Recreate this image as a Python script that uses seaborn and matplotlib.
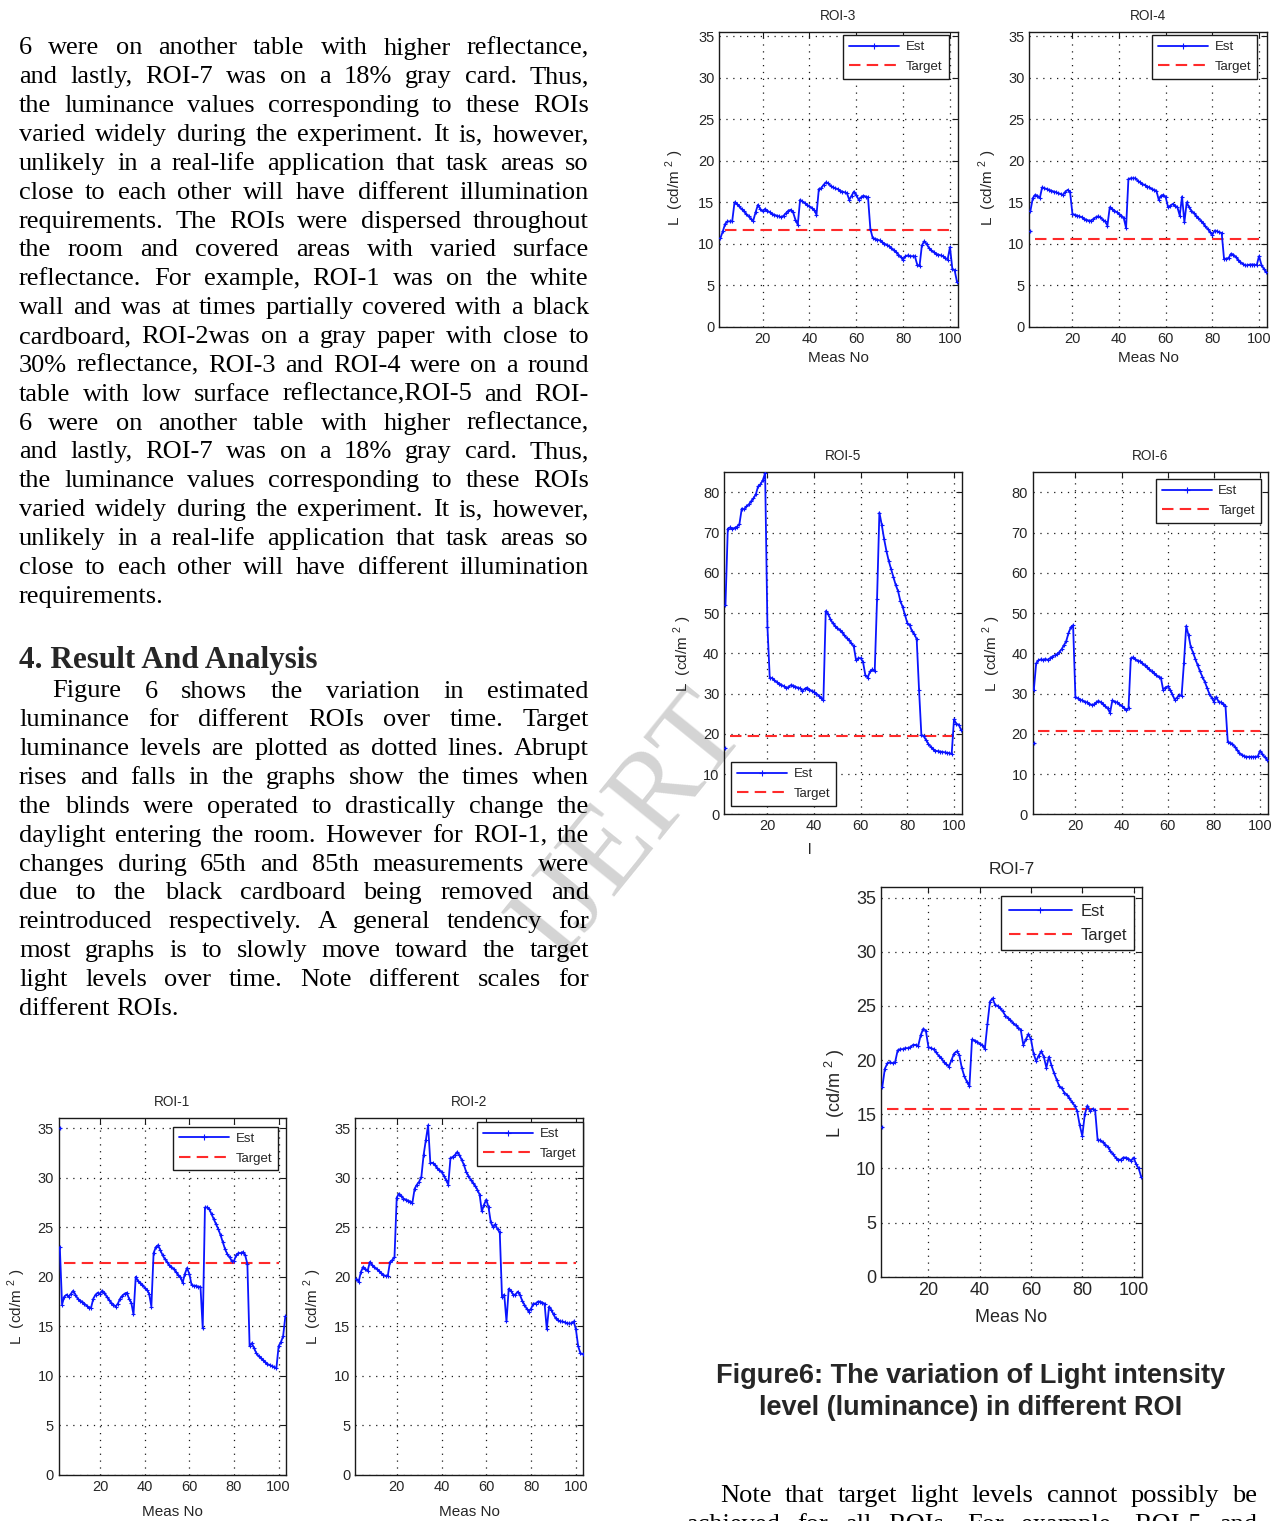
import matplotlib
matplotlib.use('Agg')
import matplotlib.pyplot as plt
from matplotlib.lines import Line2D
import numpy as np
import seaborn as sns

roi_names = ['ROI-1', 'ROI-2', 'ROI-3', 'ROI-4', 'ROI-5', 'ROI-6', 'ROI-7']

roi1_est = [23.0, 17.2, 18.0, 18.2, 18.0, 18.3, 18.6, 18.2, 17.8, 17.6,
            17.5, 17.3, 17.1, 16.9, 16.9, 17.8, 18.2, 18.4, 18.3, 18.6,
            18.4, 18.0, 17.7, 17.4, 17.2, 17.0, 17.3, 17.8, 18.1, 18.3,
            18.4, 17.8, 17.4, 16.2, 20.0, 19.6, 19.4, 19.2, 18.9, 18.7,
            18.3, 17.0, 22.4, 23.0, 23.2, 22.7, 22.2, 21.8, 21.5, 21.2,
            21.0, 20.8, 20.5, 20.2, 20.0, 19.4, 20.3, 20.9, 20.3, 19.2,
            19.1, 19.1, 19.0, 19.0, 14.8, 27.0, 27.0, 26.8, 26.3, 25.8,
            25.3, 24.8, 24.2, 23.5, 22.8, 22.3, 22.0, 21.6, 21.6, 22.2,
            22.4, 22.4, 22.5, 22.2, 21.3, 13.0, 13.3, 12.8, 12.3, 12.0,
            11.8, 11.6, 11.4, 11.2, 11.1, 11.0, 10.9, 10.8, 13.0, 13.4,
            14.0, 16.0]
roi2_est = [19.8, 19.5, 20.5, 21.0, 20.8, 20.6, 21.5, 21.2, 21.0, 20.8,
            20.6, 20.4, 20.2, 20.1, 20.1, 21.5, 21.7, 22.0, 28.0, 28.4,
            28.2, 27.9, 27.8, 27.7, 27.6, 27.5, 28.9, 29.3, 29.6, 30.1,
            32.3, 33.8, 35.3, 31.5, 31.5, 31.3, 31.0, 30.8, 30.6, 30.2,
            29.8, 29.3, 32.0, 32.1, 32.3, 32.6, 32.3, 31.8, 31.3, 30.6,
            30.2, 29.8, 29.5, 29.2, 28.8, 28.3, 26.6, 27.3, 27.8, 27.0,
            25.5, 25.0, 25.3, 24.8, 24.5, 18.0, 18.2, 15.5, 18.8, 18.6,
            18.2, 18.2, 18.5, 18.2, 17.6, 17.2, 16.8, 16.5, 16.8, 17.3,
            17.3, 17.5, 17.5, 17.4, 17.3, 14.7, 17.0, 16.7, 16.2, 15.8,
            15.6, 15.5, 15.5, 15.4, 15.3, 15.3, 15.3, 15.5, 14.7, 13.0,
            12.3, 12.2]
roi3_est = [10.7, 11.5, 12.4, 12.7, 12.7, 12.7, 15.0, 14.8, 14.5, 14.2,
            13.9, 13.6, 13.3, 13.0, 12.8, 13.8, 14.7, 14.2, 13.9, 14.2,
            14.0, 13.8, 13.6, 13.5, 13.4, 13.3, 13.2, 13.4, 13.7, 14.0,
            14.1, 13.8, 12.9, 12.3, 15.3, 15.1, 14.9, 14.7, 14.5, 14.3,
            14.1, 13.5, 16.6, 16.7, 17.1, 17.4, 17.3, 17.0, 16.8, 16.7,
            16.6, 16.4, 16.3, 16.2, 16.1, 15.3, 15.8, 16.3, 15.9, 15.3,
            15.6, 15.8, 15.7, 15.6, 11.8, 10.7, 10.6, 10.5, 10.4, 10.2,
            10.0, 9.9, 9.7, 9.5, 9.2, 9.0, 8.7, 8.4, 8.1, 8.5,
            8.6, 8.5, 8.5, 8.5, 7.5, 7.3, 9.8, 10.3, 10.0, 9.5,
            9.2, 9.0, 8.8, 8.7, 8.6, 8.5, 8.3, 8.1, 9.6, 7.0,
            6.8, 5.4]
roi4_est = [14.0, 15.5, 15.9, 15.8, 15.5, 16.8, 16.7, 16.6, 16.5, 16.4,
            16.3, 16.2, 16.1, 16.0, 15.9, 16.3, 16.5, 16.2, 13.6, 13.5,
            13.4, 13.3, 13.2, 13.0, 12.9, 12.8, 12.8, 13.0, 13.2, 13.3,
            13.2, 12.9, 12.7, 12.2, 14.4, 14.2, 14.0, 13.8, 13.6, 13.4,
            13.1, 11.9, 17.8, 17.9, 17.9, 17.9, 17.6, 17.4, 17.2, 17.1,
            16.9, 16.8, 16.6, 16.5, 16.4, 15.3, 15.8, 15.9, 15.6, 14.4,
            14.6, 14.8, 14.6, 14.4, 13.4, 15.7, 12.6, 15.0, 14.4, 14.0,
            13.7, 13.4, 13.1, 12.8, 12.5, 12.1, 11.8, 11.4, 11.1, 11.6,
            11.5, 11.4, 11.3, 8.2, 8.2, 8.3, 8.8, 8.7, 8.4, 8.1,
            7.8, 7.6, 7.4, 7.4, 7.5, 7.5, 7.5, 7.4, 8.5, 7.5,
            7.0, 6.6]
roi5_est = [52.0, 71.0, 71.3, 71.0, 71.2, 71.5, 72.2, 76.0, 75.8, 76.5,
            77.0, 77.8, 78.5, 79.5, 81.5, 82.0, 83.0, 84.8, 46.6, 33.8,
            33.9, 33.3, 32.8, 32.5, 32.2, 31.8, 31.4, 31.6, 32.1, 32.0,
            31.7, 31.5, 31.3, 30.7, 31.2, 31.5, 31.0, 30.7, 30.4, 30.0,
            29.5, 29.0, 28.5, 50.5, 49.8, 48.5, 47.5, 46.8, 46.3, 45.8,
            45.2, 44.5, 43.8, 43.2, 42.5, 41.8, 38.3, 38.8, 38.8, 37.8,
            34.5, 34.0, 35.5, 36.0, 35.5, 53.5, 75.0, 72.0, 68.5, 65.5,
            63.0, 61.0, 59.0, 57.0, 55.5, 53.0, 51.5, 49.5, 47.5, 47.0,
            45.5, 44.8, 43.5, 31.0, 19.8, 19.4, 18.5, 17.5, 16.8, 16.2,
            15.8, 15.7, 15.6, 15.5, 15.4, 15.3, 15.2, 15.0, 23.6, 22.5,
            22.3, 21.0]
roi6_est = [31.0, 37.5, 38.3, 38.5, 38.4, 38.6, 38.4, 38.8, 39.2, 39.5,
            39.8, 40.3, 41.0, 42.0, 43.0, 45.0, 46.5, 47.0, 29.2, 28.8,
            28.5, 28.3, 28.0, 27.8, 27.5, 27.2, 27.3, 27.8, 28.2, 27.8,
            27.3, 26.8, 26.3, 25.2, 28.3, 28.0, 27.8, 27.3, 27.0, 26.5,
            26.0, 26.3, 38.8, 39.0, 38.5, 38.2, 38.0, 37.5, 37.0, 36.5,
            36.0, 35.5, 35.0, 34.6, 34.2, 34.0, 31.0, 31.5, 31.8, 31.0,
            29.8, 28.5, 29.0, 29.6, 29.5, 37.5, 46.8, 44.5, 41.5, 40.2,
            38.5, 37.0, 35.5, 34.2, 33.0, 31.5, 30.0, 29.0, 28.0, 29.2,
            28.0, 27.8, 27.5, 27.0, 18.0, 17.8, 17.5, 16.8, 16.0, 15.3,
            14.8, 14.5, 14.3, 14.3, 14.3, 14.3, 14.3, 14.4, 15.8, 15.0,
            14.2, 13.6]
roi7_est = [17.5, 19.2, 19.7, 19.8, 19.7, 19.8, 20.9, 21.0, 21.0, 21.1,
            21.1, 21.2, 21.4, 21.4, 21.3, 22.3, 22.9, 22.7, 21.2, 21.1,
            21.0, 20.7, 20.4, 20.2, 19.8, 19.6, 19.4, 20.0, 20.6, 20.8,
            20.5, 19.3, 18.5, 18.0, 17.6, 21.9, 21.8, 21.7, 21.5, 21.4,
            21.0, 23.3, 25.4, 25.7, 25.1, 25.0, 24.8, 24.5, 24.1, 23.9,
            23.7, 23.4, 23.2, 23.0, 22.8, 21.4, 21.9, 22.4, 21.9, 20.6,
            19.9, 20.4, 20.8, 20.3, 19.3, 20.3, 19.5, 18.8, 18.2, 17.6,
            17.4, 17.0, 16.8, 16.5, 16.1, 15.8, 15.3, 14.0, 13.0, 15.0,
            15.8, 15.3, 15.5, 15.4, 12.6, 12.6, 12.4, 12.2, 12.0, 11.6,
            11.3, 11.0, 10.8, 10.8, 11.0, 11.0, 10.9, 10.7, 11.0, 10.4,
            10.0, 9.2]

# stray first sample drawn on its own at the left edge (None = none)
first_samples = [35.0, None, None, 11.6, 16.4, 17.7, 13.8]
target_levels = [21.4, 21.4, 11.7, 10.6, 19.4, 20.7, 15.5]
target_span = [4, 100]
x_ticks = [20, 40, 60, 80, 100]

est_series = [roi1_est, roi2_est, roi3_est, roi4_est, roi5_est, roi6_est, roi7_est]
meas_no = np.arange(2, 2 + len(roi1_est))

# ---- styling ----
sns.set_theme(style='white')
plt.rcParams['font.family'] = ['Liberation Sans', 'DejaVu Sans']
plt.rcParams['mathtext.fontset'] = 'custom'
plt.rcParams['mathtext.rm'] = 'Liberation Sans'

W, H = 1280, 1521
fig = plt.figure(figsize=(W / 100, H / 100), dpi=100)
fig.patch.set_facecolor('white')

EST_C = '#0a14ff'
TGT_C = '#ff2a2a'
INK = '#262626'

# per panel: box (left, right, top, bottom px), ymax, ystep, legend loc/anchor,
# tick size, label size, legend size, xlabel, ylabel x px, xlabel y px
layout = {
    'ROI-1': ((58.7, 286, 1118.3, 1475), 36, 5, 'upper right', (0.966, 0.976), 10.5, 11, 9.5, 'Meas No', 17, 1512),
    'ROI-2': ((355.3, 583.3, 1118.3, 1475), 36, 5, 'upper right', (0.997, 0.989), 10.5, 11, 9.5, 'Meas No', 313, 1512),
    'ROI-3': ((719.3, 957.7, 32.3, 326.7), 35.5, 5, 'upper right', (0.962, 0.991), 10.5, 11, 9.5, 'Meas No', 675, 358),
    'ROI-4': ((1029.3, 1266.7, 32.3, 326.7), 35.5, 5, 'upper right', (0.960, 0.991), 10.5, 11, 9.5, 'Meas No', 988, 358),
    'ROI-5': ((724.3, 961.7, 472.3, 814.3), 85, 10, 'lower left', (0.028, 0.025), 10.5, 11, 9.5, 'l', 683, 850),
    'ROI-6': ((1032.7, 1267.7, 472.3, 814.3), 85, 10, 'upper right', (0.971, 0.980), 10.5, 11, 9.5, '', 992, 850),
    'ROI-7': ((881, 1142, 886.7, 1276.7), 36, 5, 'upper right', (0.9705, 0.976), 13, 13, 12, 'Meas No', 835, 1317),
}

for name, est, first, target in zip(roi_names, est_series, first_samples, target_levels):
    box, ymax, ystep, loc, anchor, fs, lfs, legfs, xlab, ylab_x, xlab_y = layout[name]
    l, r, t, b = box
    ax = fig.add_axes([l / W, 1 - b / H, (r - l) / W, (b - t) / H])
    ax.patch.set_alpha(0)

    sns.lineplot(x=meas_no, y=est, ax=ax, color=EST_C, lw=1.3, marker='+',
                 markersize=3.5, mec=EST_C, mew=0.8, errorbar=None, zorder=3)
    if first is not None:
        ax.plot(meas_no[:1], [first], '+', color=EST_C, ms=3.5, mew=0.9, zorder=3)
    sns.lineplot(x=target_span, y=[target, target], ax=ax, color=TGT_C, lw=1.5,
                 linestyle=(0, (5.5, 3.0)), errorbar=None, zorder=2)

    ax.set_xlim(1.5, 103.3)
    ax.set_ylim(0, ymax)
    ax.set_xticks(x_ticks)
    ax.set_yticks(np.arange(0, ymax, ystep))
    ax.grid(True, color='k', linestyle=(0, (1, 4.5)), linewidth=0.9)
    ax.tick_params(direction='in', length=4, width=0.8, top=True, right=True,
                   labelsize=fs, labelcolor=INK, pad=3.5, color='k')
    for sp in ax.spines.values():
        sp.set_visible(True)
        sp.set_color('k')
        sp.set_linewidth(1.0)

    ax.set_title(name, fontsize=9.8 if name != 'ROI-7' else 12.5, color=INK, pad=9)
    ax.set_ylabel('L  (cd/m $^{2}$ )', fontsize=lfs, color=INK)
    ax.yaxis.label.set_verticalalignment('center')
    ax.yaxis.set_label_coords((ylab_x - l) / (r - l), 0.47)
    ax.set_xlabel(xlab, fontsize=lfs, color=INK)
    ax.xaxis.label.set_verticalalignment('center')
    xlab_x = 0.5 if name != 'ROI-5' else (810 - l) / (r - l)
    ax.xaxis.set_label_coords(xlab_x, -(xlab_y - b) / (b - t))

    handles = [Line2D([], [], color=EST_C, lw=1.3, marker='+', ms=4, mew=0.8, label='Est'),
               Line2D([], [], color=TGT_C, lw=1.5, linestyle=(0, (5.5, 3.0)), label='Target')]
    leg = ax.legend(handles=handles, loc=loc, bbox_to_anchor=anchor, borderaxespad=0,
                    fontsize=legfs, frameon=True, fancybox=False, edgecolor='k',
                    framealpha=1, handlelength=3.8, handletextpad=0.5, borderpad=0.45,
                    labelspacing=0.55, numpoints=1)
    leg.get_frame().set_linewidth(1.0)
    for txt in leg.get_texts():
        txt.set_color(INK)

# ---- page text ----
renderer = fig.canvas.get_renderer()
SERIF = 'Liberation Serif'


def text_line(s, x0, x1, y, size, justify=True, weight='normal'):
    words = s.split()
    arts = [fig.text(0, 0, w, fontsize=size, family=SERIF, weight=weight,
                     va='center', ha='left', color='black', zorder=5) for w in words]
    widths = [a.get_window_extent(renderer).width for a in arts]
    if justify and len(words) > 1:
        gap = (x1 - x0 - sum(widths)) / (len(words) - 1)
    else:
        gap = 0.25 * size * 100 / 72
    x = x0
    for a, w in zip(arts, widths):
        a.set_position((x / W, 1 - y / H))
        x += w + gap


para1 = [
    '6 were on another table with higher reflectance,',
    'and lastly, ROI-7 was on a 18% gray card. Thus,',
    'the luminance values corresponding to these ROIs',
    'varied widely during the experiment. It is, however,',
    'unlikely in a real-life application that task areas so',
    'close to each other will have different illumination',
    'requirements. The ROIs were dispersed throughout',
    'the room and covered areas with varied surface',
    'reflectance. For example, ROI-1 was on the white',
    'wall and was at times partially covered with a black',
    'cardboard, ROI-2was on a gray paper with close to',
    '30% reflectance, ROI-3 and ROI-4 were on a round',
    'table with low surface reflectance,ROI-5 and ROI-',
    '6 were on another table with higher reflectance,',
    'and lastly, ROI-7 was on a 18% gray card. Thus,',
    'the luminance values corresponding to these ROIs',
    'varied widely during the experiment. It is, however,',
    'unlikely in a real-life application that task areas so',
    'close to each other will have different illumination',
    'requirements.',
]
para2 = [
    'Figure 6 shows the variation in estimated',
    'luminance for different ROIs over time. Target',
    'luminance levels are plotted as dotted lines. Abrupt',
    'rises and falls in the graphs show the times when',
    'the blinds were operated to drastically change the',
    'daylight entering the room. However for ROI-1, the',
    'changes during 65th and 85th measurements were',
    'due to the black cardboard being removed and',
    'reintroduced respectively. A general tendency for',
    'most graphs is to slowly move toward the target',
    'light levels over time. Note different scales for',
    'different ROIs.',
]
para3 = [
    'Note that target light levels cannot possibly be',
    'achieved for all ROIs. For example, ROI-5 and',
]

BODY = 19
LS = 28.85
for i, s in enumerate(para1):
    text_line(s, 19, 589, 48.5 + i * LS, BODY, justify=i < len(para1) - 1)

fig.text(19 / W, 1 - 661 / H, '4. Result And Analysis', fontsize=22.5, family=SERIF,
         weight='bold', va='center', ha='left', zorder=5)

for i, s in enumerate(para2):
    x0 = 52 if i == 0 else 19
    text_line(s, x0, 589, 691.5 + i * LS, BODY, justify=i < len(para2) - 1)

for i, s in enumerate(para3):
    x0 = 720 if i == 0 else 686
    text_line(s, x0, 1257, 1496 + i * LS, BODY, justify=True)

fig.text(971 / W, 1 - 1376 / H, 'Figure6: The variation of Light intensity',
         fontsize=19.5, weight='bold', family='Liberation Sans', ha='center', va='center', zorder=5)
fig.text(971 / W, 1 - 1408 / H, 'level (luminance) in different ROI',
         fontsize=19.5, weight='bold', family='Liberation Sans', ha='center', va='center', zorder=5)

# watermark, behind the panels and the body text
fig.text(630 / W, 1 - 826 / H, 'IJERT', fontsize=85, family=SERIF, color='#d4d4d4',
         rotation=51, ha='center', va='center', zorder=-1)

fig.savefig('out.png', dpi=100, facecolor='white')
